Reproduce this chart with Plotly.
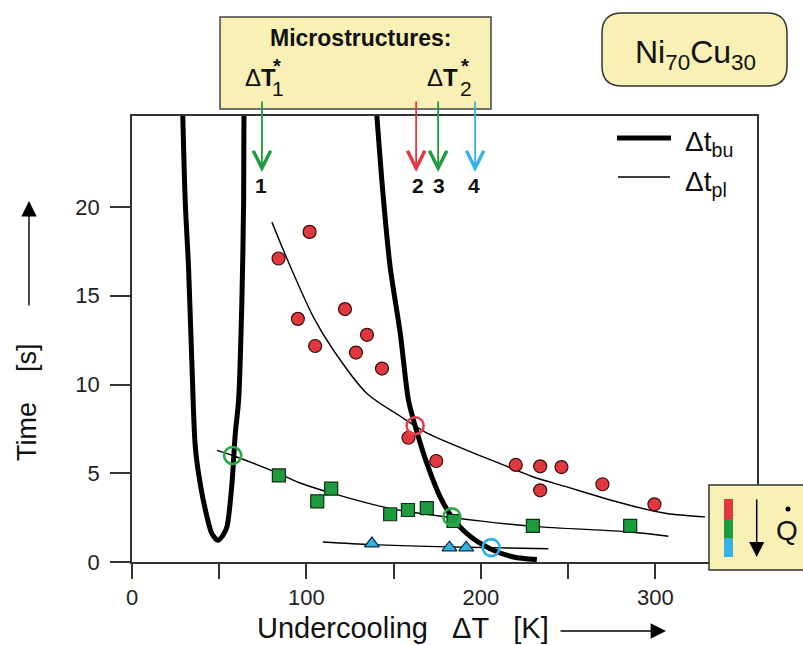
import plotly.graph_objects as go

# ---- measured data -------------------------------------------------------
# Experimental points (undercooling dT [K], time [s])
red_x = [84.0, 101.8, 95.1, 122.1, 105.0, 134.7, 128.4, 143.3, 158.5, 174.4,
         220.0, 234.0, 246.2, 234.0, 269.7, 299.5]
red_y = [17.1, 18.6, 13.7, 14.25, 12.17, 12.8, 11.8, 10.9, 7.0, 5.69,
         5.47, 5.39, 5.35, 4.04, 4.38, 3.25]

green_x = [84.2, 106.2, 114.2, 148.0, 158.2, 169.0, 184.3, 229.8, 285.6]
green_y = [4.88, 3.42, 4.13, 2.69, 2.93, 3.04, 2.31, 2.03, 2.03]

blue_x = [137.5, 182.0, 191.6]
blue_y = [1.04, 0.81, 0.81]

# Intersections of plateau and break-up times
cross_red = ([162.3], [7.68])
cross_green = ([57.7, 183.4], [6.0, 2.54])
cross_blue = ([205.9], [0.81])

# Break-up time curve (two branches)
bu_left_x = [29.0, 30.5, 32.4, 34.4, 36.3, 39.1, 43.0, 45.8, 49.3, 52.1,
             54.4, 57.3, 59.2, 61.1, 63.0, 64.0, 64.2]
bu_left_y = [25.6, 20.35, 16.62, 10.99, 6.48, 4.42, 2.54, 1.6, 1.22, 1.5,
             1.97, 4.42, 7.23, 9.1, 14.74, 20.37, 25.6]
bu_right_x = [140.0, 144.2, 148.0, 153.8, 158.5, 162.3, 169.1, 176.7, 183.4,
              192.0, 205.3, 218.7, 232.1]
bu_right_y = [25.6, 20.38, 16.62, 12.87, 9.11, 7.68, 5.54, 3.66, 2.54,
              1.6, 0.75, 0.28, 0.135]

# Plateau duration fits for the three cooling rates
pl_red_x = [80.2, 88.8, 104.0, 115.5, 134.7, 153.8, 168.1, 192.0, 211.1,
            230.1, 249.3, 268.4, 287.4, 306.6, 328.5]
pl_red_y = [19.15, 17.1, 13.8, 11.93, 9.49, 8.21, 7.32, 6.29, 5.54,
            4.79, 4.23, 3.66, 3.14, 2.73, 2.54]
pl_green_x = [48.7, 57.7, 84.2, 96.4, 115.5, 148.0, 183.4, 230.1, 285.6, 307.5]
pl_green_y = [6.29, 6.0, 4.98, 4.45, 3.85, 3.01, 2.5, 2.01, 1.69, 1.45]
pl_blue_x = [109.4, 137.5, 180.5, 205.3, 238.7]
pl_blue_y = [1.13, 0.98, 0.85, 0.81, 0.75]

# Microstructure transition markers
marker_x = [74.5, 162.9, 175.5, 196.7]
marker_lbl = ["1", "2", "3", "4"]

x_ticks = [0, 50, 100, 150, 200, 250, 300]
x_ticktext = ["0", "", "100", "", "200", "", "300"]
y_ticks = [0, 5, 10, 15, 20]

# ---- styling -------------------------------------------------------------
RED = "#E1373F"
GREEN = "#1E9B3E"
BLUE = "#33B2E6"
OC_RED = "#E5404A"
OC_GREEN = "#2DAA45"
OC_BLUE = "#2EAEE6"
YELLOW = "#F8F0B4"
FONT = "Liberation Sans, Arial, sans-serif"
NB = "\u00a0"

W, H = 803, 645
ML, MR, MT, MB = 132, 46, 116, 83
PW, PH = W - ML - MR, H - MT - MB


def px(xp):
    return (xp - ML) / PW


def py(yp):
    return (H - MB - yp) / PH


def label(x, y, text, size, xanchor="center", xref="paper", **kw):
    d = dict(xref=xref, yref="paper", x=x, y=y, text=text, showarrow=False,
             xanchor=xanchor, yanchor="middle",
             font=dict(size=size, color="#111", family=FONT))
    d.update(kw)
    return d


def arrow(x, y, ax, ay, color, head, size, width, xref="paper"):
    return dict(xref=xref, yref="paper", x=x, y=y, ax=ax, ay=ay,
                axref="pixel", ayref="pixel", text="", showarrow=True,
                arrowhead=head, arrowsize=size, arrowwidth=width,
                arrowcolor=color, xanchor="center", yanchor="middle")


fig = go.Figure()

# plateau fits
for xs, ys in [(pl_red_x, pl_red_y), (pl_green_x, pl_green_y), (pl_blue_x, pl_blue_y)]:
    fig.add_trace(go.Scatter(x=xs, y=ys, mode="lines",
                             line=dict(color="black", width=1.4, shape="spline", smoothing=0.8),
                             hoverinfo="skip", showlegend=False))

# break-up curve
for xs, ys in [(bu_left_x, bu_left_y), (bu_right_x, bu_right_y)]:
    fig.add_trace(go.Scatter(x=xs, y=ys, mode="lines",
                             line=dict(color="black", width=5, shape="spline", smoothing=0.8),
                             hoverinfo="skip", showlegend=False))

# data points
fig.add_trace(go.Scatter(x=red_x, y=red_y, mode="markers",
                         marker=dict(symbol="circle", size=13, color=RED,
                                     line=dict(color="#3a0d0d", width=1.2)),
                         showlegend=False))
fig.add_trace(go.Scatter(x=green_x, y=green_y, mode="markers",
                         marker=dict(symbol="square", size=13, color=GREEN,
                                     line=dict(color="#0c2e14", width=1.2)),
                         showlegend=False))
fig.add_trace(go.Scatter(x=blue_x, y=blue_y, mode="markers",
                         marker=dict(symbol="triangle-up", size=13, color=BLUE,
                                     line=dict(color="#0d2a3a", width=1.2)),
                         showlegend=False))

# open circles at the intersections
for (xs, ys), c in [(cross_red, OC_RED), (cross_green, OC_GREEN), (cross_blue, OC_BLUE)]:
    fig.add_trace(go.Scatter(x=xs, y=ys, mode="markers",
                             marker=dict(symbol="circle-open", size=17, color=c,
                                         line=dict(color=c, width=2.6)),
                             showlegend=False, cliponaxis=False))

shapes = []
ann = []

# Microstructures box
shapes.append(dict(type="rect", xref="paper", yref="paper",
                   x0=px(220), x1=px(491), y0=py(109), y1=py(17),
                   fillcolor=YELLOW, line=dict(color="#444", width=1.5), layer="above"))
ann.append(label(px(360), py(38), "<b>Microstructures:</b>", 23))
for x_left in [243, 425]:
    ann.append(label(px(x_left), py(77), "Δ<b>T</b>", 24, xanchor="left"))
for sub_x, lbl in [(278, "1"), (466, "2")]:
    ann.append(label(px(sub_x), py(89), lbl, 21))
    ann.append(label(px(sub_x - 1), py(66), "<b>*</b>", 20))

# transition arrows and labels
arrow_cols = [GREEN, RED, GREEN, BLUE]
lbl_x = [74.1, 164.1, 176.1, 196.2]
for xv, c in zip(marker_x, arrow_cols):
    ann.append(arrow(xv, py(172), 0, -72, c, 5, 1.9, 1.8, xref="x"))
for xv, t in zip(lbl_x, marker_lbl):
    ann.append(label(xv, py(185), "<b>" + t + "</b>", 21, xref="x"))

# Ni70Cu30 rounded box
x0, x1, yb, yt = px(602), px(787), py(86), py(13)
rx, ry = 20 / PW, 20 / PH
path = (f"M {x0+rx},{yt} L {x1-rx},{yt} Q {x1},{yt} {x1},{yt-ry} "
        f"L {x1},{yb+ry} Q {x1},{yb} {x1-rx},{yb} L {x0+rx},{yb} "
        f"Q {x0},{yb} {x0},{yb+ry} L {x0},{yt-ry} Q {x0},{yt} {x0+rx},{yt} Z")
shapes.append(dict(type="path", xref="paper", yref="paper", path=path,
                   fillcolor=YELLOW, line=dict(color="#333", width=1.5), layer="above"))
ann.append(label(px(695), py(55), "Ni<sub>70</sub>Cu<sub>30</sub>", 32))

# legend swatches
shapes.append(dict(type="line", xref="paper", yref="paper", x0=px(617), x1=px(671),
                   y0=py(138), y1=py(138), line=dict(color="black", width=5)))
shapes.append(dict(type="line", xref="paper", yref="paper", x0=px(618), x1=px(670),
                   y0=py(177), y1=py(177), line=dict(color="black", width=1.4)))
ann.append(label(px(683), py(144), "Δt<sub>bu</sub>", 28, xanchor="left"))
ann.append(label(px(683), py(183), "Δt<sub>pl</sub>", 28, xanchor="left"))

# cooling-rate box
shapes.append(dict(type="rect", xref="paper", yref="paper",
                   x0=px(709), x1=px(812), y0=py(570), y1=py(485),
                   fillcolor=YELLOW, line=dict(color="#333", width=1.5), layer="above"))
for c, ya, yb2 in [(RED, 499, 519), (GREEN, 519, 538.7), (BLUE, 538.7, 557)]:
    shapes.append(dict(type="rect", xref="paper", yref="paper",
                       x0=px(724), x1=px(733), y0=py(yb2), y1=py(ya),
                       fillcolor=c, line=dict(width=0), layer="above"))
ann.append(arrow(px(756.7), py(557), 0, -59, "black", 2, 2.0, 1.5))
ann.append(label(px(787), py(530), "Q", 28))
shapes.append(dict(type="circle", xref="paper", yref="paper",
                   x0=px(785.5), x1=px(790.5), y0=py(511.5), y1=py(506.5),
                   fillcolor="black", line=dict(width=0), layer="above"))

# axis titles with arrows
ann.append(label(px(27), py(402), "Time" + NB * 4 + "[s]", 27, textangle=-90))
ann.append(arrow(px(29), py(201), 0, 106, "black", 2, 2.2, 1.4))
ann.append(label(px(255), py(628),
                 "Undercooling" + NB * 3 + "ΔT" + NB * 3 + "[K]", 29, xanchor="left"))
ann.append(arrow(px(666), py(631), -107, 0, "black", 2, 2.2, 1.4))

fig.update_layout(
    width=W, height=H,
    margin=dict(l=ML, r=MR, t=MT, b=MB, pad=0),
    paper_bgcolor="white", plot_bgcolor="white",
    font=dict(family=FONT, size=22, color="#222"),
    shapes=shapes, annotations=ann, showlegend=False,
    xaxis=dict(range=[0, 358.3], tickvals=x_ticks, ticktext=x_ticktext,
               ticks="outside", ticklen=15, tickwidth=1.5, tickcolor="#333",
               showline=True, linecolor="#333", linewidth=1.5, mirror=True,
               showgrid=False, zeroline=False, tickfont=dict(size=22)),
    yaxis=dict(range=[0, 25.13], tickvals=y_ticks,
               ticks="outside", ticklen=20, tickwidth=1.5, tickcolor="#333",
               showline=True, linecolor="#333", linewidth=1.5, mirror=True,
               showgrid=False, zeroline=False, tickfont=dict(size=22),
               ticklabelstandoff=6),
)

fig.write_html("out.html")
